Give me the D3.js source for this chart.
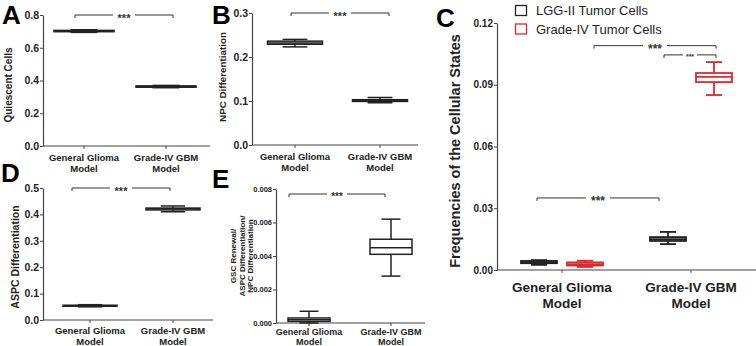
<!DOCTYPE html>
<html>
<head>
<meta charset="utf-8">
<script src="https://cdn.jsdelivr.net/npm/d3@7"></script>
<style>
  body { margin: 0; background: #fff; }
  svg { display: block; font-family: "Liberation Sans", Arial, sans-serif; }
</style>
</head>
<body>
<svg id="chart" width="756" height="346"></svg>
<script>
// categories (two text lines each)
const groups = ["General Glioma\nModel", "Grade-IV GBM\nModel"];
const seriesC = ["LGG-II Tumor Cells", "Grade-IV Tumor Cells"];

// box stats per group: [min, q1, median, q3, max]
const quiescent = [[0.694, 0.698, 0.702, 0.706, 0.710], [0.356, 0.359, 0.363, 0.367, 0.370]];
const npcDiff = [[0.223, 0.229, 0.232, 0.236, 0.240], [0.096, 0.099, 0.101, 0.103, 0.108]];
const aspcDiff = [[0.050, 0.052, 0.054, 0.056, 0.058], [0.410, 0.417, 0.421, 0.424, 0.432]];
const ratioE = [[0.0000, 0.0001, 0.0002, 0.0003, 0.0007], [0.0028, 0.0041, 0.0045, 0.0050, 0.0062]];
const lggCells = [[0.0025, 0.0033, 0.0038, 0.0044, 0.0048], [0.0126, 0.0141, 0.0150, 0.0160, 0.0185]];
const gradeIVCells = [[0.0015, 0.0022, 0.0029, 0.0037, 0.0045], [0.0850, 0.0913, 0.0938, 0.0957, 0.1010]];

// tick values
const ticksA = [0, 0.2, 0.4, 0.6, 0.8];
const ticksB = [0, 0.1, 0.2, 0.3];
const ticksC = [0, 0.03, 0.06, 0.09, 0.12];
const ticksD = [0, 0.1, 0.2, 0.3, 0.4, 0.5];
const ticksE = [0, 0.002, 0.004, 0.006, 0.008];

const svg = d3.select("#chart");
const axisColor = "#444";
const boxColor = "#222";
const red = "#e3262b";

function drawBox(g, xc, w, s, y, color, sw) {
  const [mn, q1, md, q3, mx] = s;
  const cap = w * 0.45;
  const b = g.append("g").attr("stroke", color).attr("stroke-width", sw).attr("fill", "none");
  b.append("line").attr("x1", xc).attr("x2", xc).attr("y1", y(mx)).attr("y2", y(q3));
  b.append("line").attr("x1", xc).attr("x2", xc).attr("y1", y(q1)).attr("y2", y(mn));
  b.append("line").attr("x1", xc - cap / 2).attr("x2", xc + cap / 2).attr("y1", y(mx)).attr("y2", y(mx));
  b.append("line").attr("x1", xc - cap / 2).attr("x2", xc + cap / 2).attr("y1", y(mn)).attr("y2", y(mn));
  b.append("rect").attr("x", xc - w / 2).attr("width", w)
    .attr("y", y(q3)).attr("height", Math.max(0.5, y(q1) - y(q3))).attr("fill", "#fff");
  b.append("line").attr("x1", xc - w / 2).attr("x2", xc + w / 2).attr("y1", y(md)).attr("y2", y(md));
}

function drawBracket(g, x1, x2, yp, fs) {
  const mid = (x1 + x2) / 2, gap = fs * 1.0;
  const p = g.append("g").attr("stroke", "#333").attr("stroke-width", 1).attr("fill", "none");
  p.append("path").attr("d", `M${x1},${yp + 3}V${yp}H${mid - gap}`);
  p.append("path").attr("d", `M${mid + gap},${yp}H${x2}V${yp + 3}`);
  g.append("text").attr("x", mid).attr("y", yp + fs * 0.6).attr("text-anchor", "middle")
    .attr("font-size", fs).attr("font-weight", "bold").attr("fill", "#333").text("***");
}

function drawAxes(p, x, y) {
  const g = svg.append("g");
  const ya = g.append("g").attr("transform", `translate(${p.left},0)`)
    .call(d3.axisLeft(y).tickValues(p.ticks).tickSize(3).tickSizeOuter(0).tickFormat(d3.format(p.fmt)));
  ya.select(".domain").attr("stroke", axisColor).attr("stroke-width", 1.2);
  ya.selectAll(".tick line").attr("stroke", axisColor);
  ya.selectAll(".tick text").attr("font-size", p.tickFs).attr("font-weight", "bold")
    .attr("fill", "#222").attr("font-family", "Liberation Sans, Arial, sans-serif").attr("x", -4);

  g.append("line").attr("x1", p.left).attr("x2", p.right).attr("y1", p.bottom).attr("y2", p.bottom)
    .attr("stroke", axisColor).attr("stroke-width", 1.2);
  groups.forEach(c => {
    g.append("line").attr("x1", x(c)).attr("x2", x(c)).attr("y1", p.bottom).attr("y2", p.bottom + 3)
      .attr("stroke", axisColor);
    c.split("\n").forEach((t, i) => {
      g.append("text").attr("x", x(c)).attr("y", p.bottom + p.lab1 + i * p.labGap)
        .attr("text-anchor", "middle").attr("font-size", p.labFs).attr("font-weight", "bold")
        .attr("fill", "#222").text(t);
    });
  });

  p.ylabel.forEach((t, i) => {
    g.append("text")
      .attr("transform", `translate(${p.ylx + i * p.ylGap},${p.yly}) rotate(-90)`)
      .attr("text-anchor", "middle").attr("font-size", p.ylFs).attr("font-weight", "bold")
      .attr("fill", "#222").text(t);
  });

  g.append("text").attr("x", p.letter[0]).attr("y", p.letter[1])
    .attr("font-size", 26).attr("font-weight", "bold").attr("fill", "#000").text(p.name);
}

// small single-series panels
const panels = [
  { name: "A", data: quiescent, ticks: ticksA, fmt: ".1f", left: 43, right: 210, cats: [84, 166], top: 15, bottom: 146,
    boxW: 60, tickFs: 10.5, labFs: 9.5, lab1: 15, labGap: 10.5, ylabel: ["Quiescent Cells"], ylx: 12, yly: 85, ylFs: 10, ylGap: 0,
    letter: [2, 24], bracketY: 0.8, bracketOff: [-9, 7], starFs: 11 },
  { name: "B", data: npcDiff, ticks: ticksB, fmt: ".1f", left: 252, right: 418, cats: [295, 380], top: 13, bottom: 145,
    boxW: 55, tickFs: 10.5, labFs: 9.5, lab1: 15, labGap: 10.5, ylabel: ["NPC Differentiation"], ylx: 226, yly: 77, ylFs: 9.8, ylGap: 0,
    letter: [212, 24], bracketY: 0.3, bracketOff: [-4, 9], starFs: 11 },
  { name: "D", data: aspcDiff, ticks: ticksD, fmt: ".1f", left: 43, right: 213, cats: [90, 173], top: 188, bottom: 320,
    boxW: 54, tickFs: 10.5, labFs: 9.5, lab1: 14, labGap: 10.5, ylabel: ["ASPC Differentiation"], ylx: 19, yly: 257, ylFs: 10.5, ylGap: 0,
    letter: [1, 182], bracketY: 0.5, bracketOff: [-18, -3], starFs: 11 },
  { name: "E", data: ratioE, ticks: ticksE, fmt: ".3f", left: 276, right: 425, cats: [309, 391], top: 189, bottom: 323,
    boxW: 42, tickFs: 7.5, labFs: 9, lab1: 12, labGap: 9.5, ylabel: ["GSC Renewal/", "ASPC Differentiation/", "NPC Differentiation"],
    ylx: 236, yly: 256, ylFs: 8, ylGap: 8.5, letter: [212, 188], bracketY: 0.0077, bracketOff: [-20, -6], starFs: 10 },
];

panels.forEach(p => {
  const x = d3.scalePoint().domain(groups).range(p.cats);
  const y = d3.scaleLinear().domain([0, p.ticks[p.ticks.length - 1]]).range([p.bottom, p.top]);
  drawAxes(p, x, y);
  const g = svg.append("g");
  groups.forEach((c, i) => drawBox(g, x(c), p.boxW, p.data[i], y, boxColor, 1.5));
  drawBracket(g, x(groups[0]) + p.bracketOff[0], x(groups[1]) + p.bracketOff[1], y(p.bracketY), p.starFs);
});

// panel C: grouped boxes
const pc = { name: "C", ticks: ticksC, fmt: ".2f", left: 497, right: 756, cats: [562, 691], top: 23, bottom: 270,
  tickFs: 10, labFs: 13.5, lab1: 22, labGap: 16, ylabel: ["Frequencies of the Cellular States"], ylx: 460, yly: 151,
  ylFs: 14.5, ylGap: 0, letter: [436, 27] };
const xC = d3.scalePoint().domain(groups).range(pc.cats);
const xInner = d3.scaleBand().domain(seriesC).range([-46, 46]);
const yC = d3.scaleLinear().domain([0, 0.12]).range([pc.bottom, pc.top]);
drawAxes(pc, xC, yC);
const colorC = d3.scaleOrdinal().domain(seriesC).range([boxColor, red]);
const dataC = [lggCells, gradeIVCells];
const gC = svg.append("g");
seriesC.forEach((s, si) => {
  groups.forEach((c, ci) => {
    const xc = xC(c) + xInner(s) + xInner.bandwidth() / 2;
    drawBox(gC, xc, 36, dataC[si][ci], yC, colorC(s), 1.8);
  });
});
const posC = (c, s) => xC(groups[c]) + xInner(seriesC[s]) + xInner.bandwidth() / 2;
drawBracket(gC, posC(0, 0) - 2, posC(1, 0) - 9, yC(0.035), 12);
drawBracket(gC, posC(0, 1) + 9, posC(1, 1) + 2, yC(0.109), 12);
drawBracket(gC, posC(1, 0) - 4, posC(1, 1) + 2, yC(0.1045), 7);

// legend
const leg = svg.append("g").attr("transform", "translate(515,5)");
seriesC.forEach((s, i) => {
  const r = leg.append("g").attr("transform", `translate(0,${i * 18.5})`);
  r.append("rect").attr("x", 0.5).attr("y", 0.5).attr("width", 11).attr("height", 10)
    .attr("fill", "none").attr("stroke", colorC(s)).attr("stroke-width", 1.3);
  r.append("text").attr("x", 21).attr("y", 10).attr("font-size", 13).attr("fill", "#222").text(s);
});
</script>
</body>
</html>
